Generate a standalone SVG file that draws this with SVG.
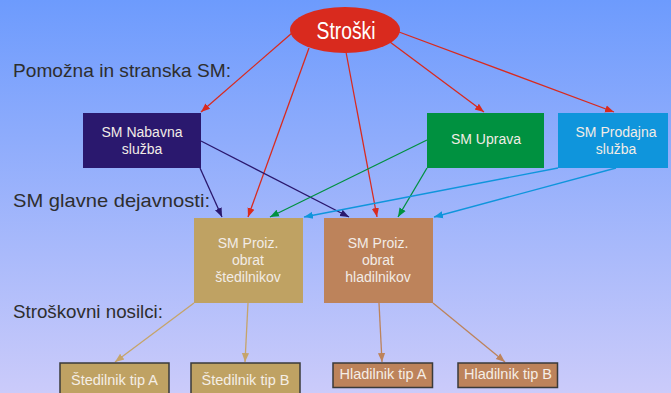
<svg xmlns="http://www.w3.org/2000/svg" width="671" height="393" viewBox="0 0 671 393">
<defs>
<linearGradient id="bg" x1="0" y1="0" x2="0" y2="1">
<stop offset="0" stop-color="#6d9bfd"/>
<stop offset="1" stop-color="#cbcbfa"/>
</linearGradient>
<marker id="aRed" viewBox="0 0 10 10" refX="10" refY="5" markerWidth="9" markerHeight="9" markerUnits="userSpaceOnUse" orient="auto"><path d="M0,1 L10,5 L0,9 Z" fill="#d92a1e"/></marker>
<marker id="aInd" viewBox="0 0 10 10" refX="10" refY="5" markerWidth="9" markerHeight="9" markerUnits="userSpaceOnUse" orient="auto"><path d="M0,1 L10,5 L0,9 Z" fill="#2a186e"/></marker>
<marker id="aGrn" viewBox="0 0 10 10" refX="10" refY="5" markerWidth="9" markerHeight="9" markerUnits="userSpaceOnUse" orient="auto"><path d="M0,1 L10,5 L0,9 Z" fill="#009140"/></marker>
<marker id="aBlu" viewBox="0 0 10 10" refX="10" refY="5" markerWidth="9" markerHeight="9" markerUnits="userSpaceOnUse" orient="auto"><path d="M0,1 L10,5 L0,9 Z" fill="#0f95dc"/></marker>
<marker id="aTan" viewBox="0 0 10 10" refX="10" refY="5" markerWidth="9" markerHeight="9" markerUnits="userSpaceOnUse" orient="auto"><path d="M0,1 L10,5 L0,9 Z" fill="#c6a46a"/></marker>
<marker id="aBrn" viewBox="0 0 10 10" refX="10" refY="5" markerWidth="9" markerHeight="9" markerUnits="userSpaceOnUse" orient="auto"><path d="M0,1 L10,5 L0,9 Z" fill="#bd835b"/></marker>
</defs>
<style>
.lbl{font-family:"Liberation Sans",Arial,sans-serif;font-size:19px;fill:#2e2e2e}
.nt{font-family:"Liberation Sans",Arial,sans-serif;font-size:14px;fill:#f2ece6;text-anchor:middle}
.bt{font-family:"Liberation Sans",Arial,sans-serif;font-size:14.5px;fill:#f5eee6;text-anchor:middle}
.c{fill:none;stroke-width:1.3}
.red{stroke:#d92a1e;marker-end:url(#aRed)}
.ind{stroke:#2a186e;marker-end:url(#aInd)}
.grn{stroke:#009140;marker-end:url(#aGrn)}
.blu{stroke:#0f95dc;marker-end:url(#aBlu)}
.tan{stroke:#c6a46a;marker-end:url(#aTan)}
.brn{stroke:#bd835b;marker-end:url(#aBrn)}
.leaf{stroke:#3a3a3a;stroke-width:1.5}
</style>
<rect x="0" y="0" width="671" height="393" fill="url(#bg)"/>

<g id="labels">
<text class="lbl" x="13" y="77" textLength="218" lengthAdjust="spacingAndGlyphs">Pomožna in stranska SM:</text>
<text class="lbl" x="13" y="207" textLength="197" lengthAdjust="spacingAndGlyphs">SM glavne dejavnosti:</text>
<text class="lbl" x="13" y="318" textLength="150" lengthAdjust="spacingAndGlyphs">Stroškovni nosilci:</text>
</g>

<g id="connectors">
<line class="c red" x1="292" y1="33" x2="201" y2="112"/>
<line class="c red" x1="309" y1="48" x2="248" y2="217"/>
<line class="c red" x1="346" y1="52" x2="377" y2="217"/>
<line class="c red" x1="390" y1="42" x2="484" y2="112"/>
<line class="c red" x1="399" y1="32" x2="614" y2="112"/>
<line class="c ind" x1="201" y1="141" x2="349" y2="217"/>
<line class="c ind" x1="200" y1="168" x2="222" y2="217"/>
<line class="c grn" x1="427" y1="140" x2="270" y2="217"/>
<line class="c grn" x1="427" y1="168" x2="398" y2="217"/>
<line class="c blu" x1="558" y1="168" x2="304" y2="217"/>
<line class="c blu" x1="616" y1="168" x2="434" y2="217"/>
<line class="c tan" x1="194" y1="303" x2="115" y2="362"/>
<line class="c tan" x1="248" y1="303" x2="245" y2="362"/>
<line class="c brn" x1="379" y1="303" x2="382" y2="362"/>
<line class="c brn" x1="433" y1="303" x2="505" y2="362"/>
</g>

<g id="stroski">
<ellipse cx="345" cy="30" rx="55" ry="23" fill="#d92a1e"/>
<text x="346" y="39" font-family="'Liberation Sans',Arial,sans-serif" font-size="23" fill="#ffffff" text-anchor="middle" textLength="59" lengthAdjust="spacingAndGlyphs">Stroški</text>
</g>

<g id="nabavna">
<rect x="83" y="113" width="118" height="55" fill="#2a186e"/>
<text class="nt" x="142" y="137">SM Nabavna</text>
<text class="nt" x="142" y="154">služba</text>
</g>

<g id="uprava">
<rect x="427" y="113" width="117" height="55" fill="#009140"/>
<text class="nt" x="486" y="144">SM Uprava</text>
</g>

<g id="prodajna">
<rect x="558" y="113" width="110" height="55" fill="#0f95dc"/>
<text class="nt" x="616" y="137">SM Prodajna</text>
<text class="nt" x="616" y="154">služba</text>
</g>

<g id="stedilnikov">
<rect x="194" y="218" width="109" height="85" fill="#bfa263"/>
<text class="nt" x="248" y="248">SM Proiz.</text>
<text class="nt" x="248" y="265">obrat</text>
<text class="nt" x="248" y="282">štedilnikov</text>
</g>

<g id="hladilnikov">
<rect x="324" y="218" width="109" height="85" fill="#bd835b"/>
<text class="nt" x="378" y="248">SM Proiz.</text>
<text class="nt" x="378" y="265">obrat</text>
<text class="nt" x="378" y="282">hladilnikov</text>
</g>

<g id="stedA">
<rect class="leaf" x="60" y="363" width="109" height="36" fill="#bfa263"/>
<text class="bt" x="114.5" y="385">Štedilnik tip A</text>
</g>
<g id="stedB">
<rect class="leaf" x="191" y="363" width="109" height="36" fill="#bfa263"/>
<text class="bt" x="245.5" y="385">Štedilnik tip B</text>
</g>
<g id="hladA">
<rect class="leaf" x="333" y="363" width="99.5" height="24.5" fill="#bd835b"/>
<text class="bt" x="383" y="379">Hladilnik tip A</text>
</g>
<g id="hladB">
<rect class="leaf" x="458" y="363" width="99.5" height="24.5" fill="#bd835b"/>
<text class="bt" x="508" y="379">Hladilnik tip B</text>
</g>
</svg>
